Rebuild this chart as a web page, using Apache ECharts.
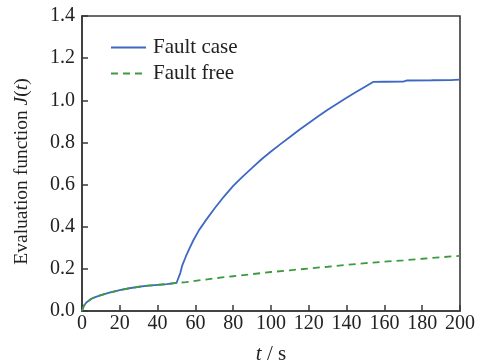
<!DOCTYPE html>
<html>
<head>
<meta charset="utf-8">
<script src="https://cdn.jsdelivr.net/npm/echarts@6/dist/echarts.min.js"></script>
<style>
  html, body { margin: 0; padding: 0; background: #fff; }
  #chart { width: 480px; height: 360px; }
</style>
</head>
<body>
<div id="chart"></div>
<script>
// 无故障曲线 (t, J)
const freeT = [0, 1, 2.3, 5, 7, 10, 15, 20, 25, 30, 35, 40, 45, 50, 55, 60, 70, 80, 90, 100, 110, 120, 130, 140, 150, 160, 170, 180, 190, 200]
const freeJ = [0, 0.025, 0.04, 0.058, 0.066, 0.075, 0.088, 0.099, 0.108, 0.115, 0.12, 0.124, 0.128, 0.133, 0.137, 0.143, 0.155, 0.165, 0.175, 0.185, 0.193, 0.202, 0.21, 0.219, 0.227, 0.234, 0.24, 0.248, 0.255, 0.262]
// 故障曲线 (t, J)，51 s 之前与无故障重合
const caseT = [0, 1, 2.3, 5, 7, 10, 15, 20, 25, 30, 35, 40, 45, 50, 51, 52, 53, 55, 57, 59, 62, 65, 70, 75, 80, 85, 90, 95, 100, 105, 110, 115, 120, 125, 130, 135, 140, 145, 150, 154, 160, 170, 172, 185, 195, 200]
const caseJ = [0, 0.025, 0.04, 0.058, 0.066, 0.075, 0.088, 0.099, 0.108, 0.115, 0.12, 0.124, 0.128, 0.133, 0.135, 0.18, 0.215, 0.26, 0.3, 0.337, 0.385, 0.424, 0.485, 0.542, 0.594, 0.638, 0.679, 0.72, 0.757, 0.792, 0.826, 0.86, 0.892, 0.924, 0.955, 0.984, 1.012, 1.039, 1.065, 1.087, 1.088, 1.089, 1.094, 1.095, 1.096, 1.098]
const seriesNames = ['Fault case', 'Fault free']

const font = 'Liberation Serif'
const pair = (xs, ys) => xs.map((x, i) => [x, ys[i]])

const option = {
    animation: false,
    grid: {
        left: 82,
        right: 20,
        top: 16,
        bottom: 49,
        outerBoundsMode: 'none',
        containLabel: false,
        show: true,
        borderColor: '#3a3a3a',
        borderWidth: 1.6
    },
    legend: {
        orient: 'vertical',
        left: 110,
        top: 37,
        padding: 0,
        itemWidth: 35,
        itemHeight: 14,
        itemGap: 5,
        data: seriesNames,
        itemStyle: { opacity: 0 },
        textStyle: { fontFamily: font, fontSize: 21, lineHeight: 21, color: '#222', padding: [0, 0, 0, 2] }
    },
    xAxis: {
        type: 'value',
        min: 0,
        max: 200,
        interval: 20,
        name: '{i|t} / s',
        nameLocation: 'middle',
        nameGap: 33,
        nameTextStyle: {
            fontFamily: font,
            fontSize: 21,
            color: '#222',
            rich: { i: { fontFamily: font, fontSize: 21, fontStyle: 'italic', color: '#222' } }
        },
        axisLine: { lineStyle: { color: '#3a3a3a', width: 1.6 } },
        axisTick: { inside: true, length: 6, lineStyle: { color: '#3a3a3a', width: 1.5 } },
        axisLabel: { fontFamily: font, fontSize: 20, color: '#222', margin: 3 },
        splitLine: { show: false }
    },
    yAxis: {
        type: 'value',
        min: 0,
        max: 1.4,
        interval: 0.2,
        name: '{n|Evaluation function }{i|J}{n|(}{i|t}{n|)}',
        nameLocation: 'middle',
        nameGap: 50,
        nameTextStyle: {
            fontFamily: font,
            fontSize: 19.5,
            color: '#222',
            padding: [0, 16, 0, 0],
            rich: {
                n: { fontFamily: font, fontSize: 19.5, color: '#222' },
                i: { fontFamily: font, fontSize: 19.5, fontStyle: 'italic', color: '#222' }
            }
        },
        axisLine: { lineStyle: { color: '#3a3a3a', width: 1.6 } },
        axisTick: { inside: true, length: 6, lineStyle: { color: '#3a3a3a', width: 1.5 } },
        axisLabel: {
            fontFamily: font,
            fontSize: 20,
            color: '#222',
            margin: 7,
            formatter: (v) => v.toFixed(1)
        },
        splitLine: { show: false }
    },
    series: [
        {
            name: seriesNames[0],
            type: 'line',
            symbol: 'none',
            z: 3,
            lineStyle: { color: '#3f67c4', width: 1.8 },
            itemStyle: { color: '#3f67c4' },
            data: pair(caseT, caseJ)
        },
        {
            name: seriesNames[1],
            type: 'line',
            symbol: 'none',
            z: 4,
            lineStyle: { color: '#3e9a3e', width: 1.8, type: [7, 5] },
            itemStyle: { color: '#3e9a3e' },
            data: pair(freeT, freeJ)
        }
    ]
}

const chart = echarts.init(document.getElementById('chart'))
chart.setOption(option)
</script>
</body>
</html>
